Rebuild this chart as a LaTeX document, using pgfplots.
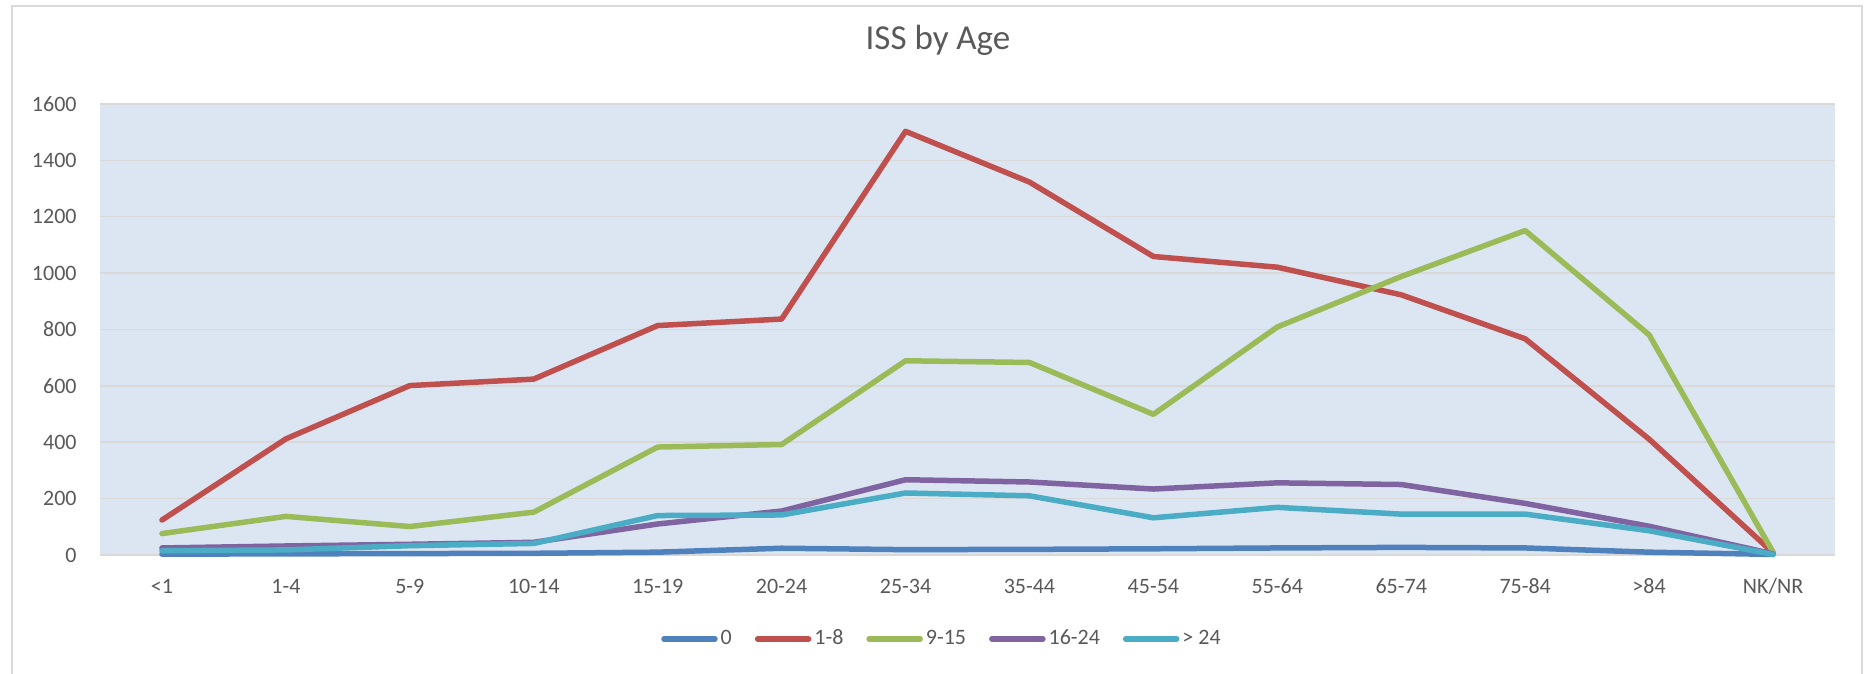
\documentclass[border=0pt]{standalone}
\usepackage{fontspec}
\setmainfont{Carlito}
\usepackage{pgfplots}
\pgfplotsset{compat=1.18}
\definecolor{cBlue}{HTML}{4F81BD}
\definecolor{cRed}{HTML}{C0504D}
\definecolor{cGreen}{HTML}{9BBB59}
\definecolor{cPurple}{HTML}{8064A2}
\definecolor{cCyan}{HTML}{4BACC6}
\definecolor{plotbg}{HTML}{DCE6F2}
\definecolor{gridc}{HTML}{D9D9D9}
\definecolor{txt}{HTML}{595959}
\begin{document}
\begin{tikzpicture}
\useasboundingbox (-50pt,-59.5pt) rectangle (882pt,277.5pt);
\draw[gridc, line width=1pt] (-44pt,-70pt) -- (-44pt,274.5pt) -- (881pt,274.5pt) -- (881pt,-70pt);
\begin{axis}[
  at={(0pt,0pt)}, anchor=south west,
  scale only axis, width=867.5pt, height=225.5pt,
  xmin=-0.5, xmax=13.5, ymin=0, ymax=1600,
  xtick={0,...,13},
  xticklabels={{<1},{1-4},{5-9},{10-14},{15-19},{20-24},{25-34},{35-44},{45-54},{55-64},{65-74},{75-84},{>84},{NK/NR}},
  ytick={0,200,...,1600},
  major tick length=0pt,
  axis line style={draw=none},
  ymajorgrids, grid style={gridc, line width=0.75pt},
  axis background/.style={fill=plotbg},
  /pgf/number format/assume math mode=true,
  /pgf/number format/1000 sep={},
  yticklabel style={font=\fontsize{11}{13}\selectfont, text=txt, anchor=east, inner sep=0pt, xshift=-11.5pt},
  xticklabel style={font=\fontsize{11}{13}\selectfont, text=txt, anchor=base, inner sep=0pt, yshift=-19.5pt},
  title={ISS by Age},
  title style={font=\fontsize{17.5}{20}\selectfont, text=txt, at={(axis description cs:0.483,1.094)}, anchor=base, inner sep=0pt},
  clip=false,
  every axis plot/.append style={line width=2.75pt, line cap=round, line join=round, mark=none},
  legend columns=5,
  legend style={draw=none, fill=none, at={(axis description cs:0.4847,-0.186)}, anchor=center,
    font=\fontsize{11}{13}\selectfont, text=txt,
    /tikz/every even column/.append style={column sep=11.5pt},
    /tikz/every odd column/.append style={column sep=1.5pt},
    nodes={inner sep=0pt}},
  legend image code/.code={\draw[#1, line width=2.75pt, line cap=round] (0pt,0pt) -- (25.5pt,0pt);},
]
\addplot[cBlue] coordinates {(0,3) (1,4) (2,5) (3,6) (4,10) (5,24) (6,19) (7,20) (8,22) (9,25) (10,27) (11,25) (12,10) (13,2)};
\addlegendentry{0}
\addplot[cRed] coordinates {(0,124) (1,412) (2,601) (3,624) (4,814) (5,837) (6,1503) (7,1323) (8,1059) (9,1021) (10,923) (11,767) (12,411) (13,8)};
\addlegendentry{1-8}
\addplot[cGreen] coordinates {(0,76) (1,137) (2,101) (3,152) (4,383) (5,392) (6,689) (7,683) (8,499) (9,809) (10,988) (11,1151) (12,781) (13,10)};
\addlegendentry{9-15}
\addplot[cPurple] coordinates {(0,25) (1,32) (2,38) (3,45) (4,110) (5,156) (6,267) (7,259) (8,234) (9,256) (10,250) (11,183) (12,102) (13,4)};
\addlegendentry{16-24}
\addplot[cCyan] coordinates {(0,15) (1,18) (2,33) (3,41) (4,140) (5,142) (6,220) (7,210) (8,132) (9,169) (10,145) (11,145) (12,86) (13,2)};
\addlegendentry{> 24}
\end{axis}
\end{tikzpicture}
\end{document}
